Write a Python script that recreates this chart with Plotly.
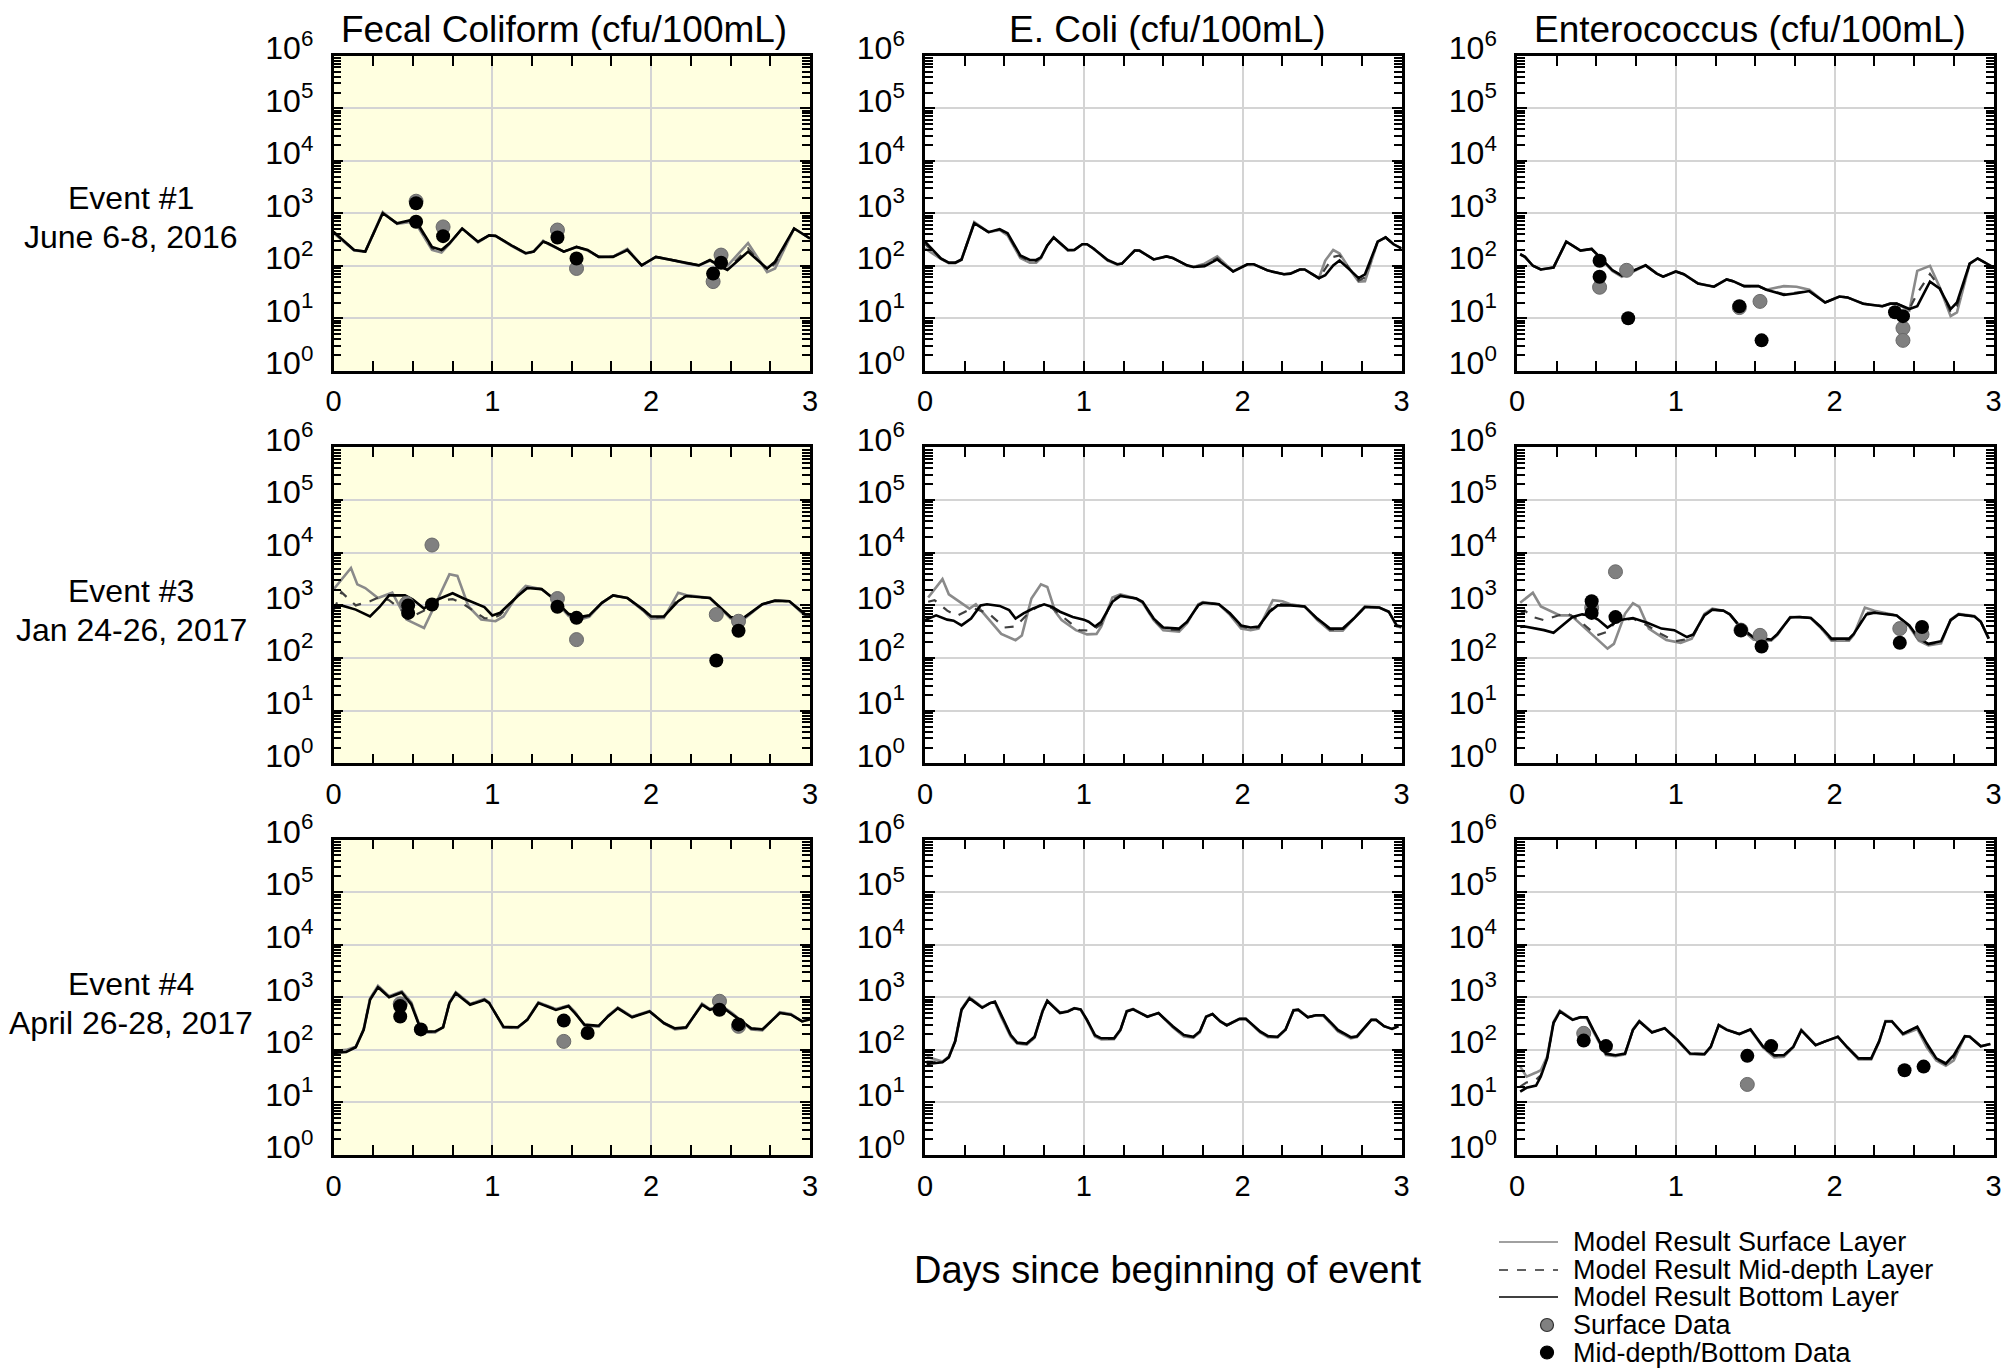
import plotly.graph_objects as go

# The page body adds an 8px margin, so the figure is placed at (8, 8) in the window.
OFF = 8
W, H = 2016 - OFF, 1368 - OFF


def px_x(p):
    return (p - OFF) / W


def px_y(p):
    return 1 - (p - OFF) / H


# ---------------- data ----------------
COL_TITLES = ["Fecal Coliform (cfu/100mL)", "E. Coli (cfu/100mL)", "Enterococcus (cfu/100mL)"]
ROW_LINE1 = ["Event #1", "Event #3", "Event #4"]
ROW_LINE2 = ["June 6-8, 2016", "Jan 24-26, 2017", "April 26-28, 2017"]
X_TICKS = [0, 1, 2, 3]
Y_TICKS = [1, 10, 100, 1000, 10000, 100000, 1000000]
Y_TICKTEXT = ["10<sup>0</sup>", "10<sup>1</sup>", "10<sup>2</sup>", "10<sup>3</sup>",
              "10<sup>4</sup>", "10<sup>5</sup>", "10<sup>6</sup>"]
LEGEND_LINES = ["Model Result Surface Layer", "Model Result Mid-depth Layer", "Model Result Bottom Layer"]
LEGEND_MARKERS = ["Surface Data", "Mid-depth/Bottom Data"]

# Event 1 - Fecal coliform
FC1_T = [0, 0.13, 0.2, 0.31, 0.4, 0.49, 0.51, 0.62, 0.68, 0.73, 0.81, 0.91, 0.98, 1.02, 1.12, 1.21, 1.26, 1.32, 1.35,
         1.45, 1.53, 1.6, 1.67, 1.76, 1.85, 1.94, 2.03, 2.13, 2.23, 2.3, 2.37, 2.44, 2.48, 2.61, 2.73, 2.78, 2.9, 3.0]
FC1_BOT = [447, 200, 186, 1000, 646, 741, 794, 229, 200, 269, 513, 288, 380, 372, 245, 174, 186, 288, 269, 186,
           229, 200, 148, 148, 200, 102, 148, 129, 110, 102, 129, 95, 83, 186, 89, 120, 513, 331]
FC1_SUR = [420, 195, 186, 1050, 630, 700, 700, 200, 178, 260, 513, 280, 380, 372, 240, 170, 186, 300, 262, 186,
           229, 195, 148, 150, 210, 102, 148, 129, 110, 102, 125, 95, 100, 270, 76, 89, 513, 331]
FC1_MID = [440, 198, 186, 1010, 640, 730, 760, 215, 190, 265, 513, 285, 380, 372, 243, 172, 186, 292, 266, 186,
           229, 198, 148, 149, 204, 102, 148, 129, 110, 102, 127, 95, 86, 214, 83, 110, 513, 331]
FC1_SD_T = [0.52, 0.69, 1.41, 1.53, 2.39, 2.44]
FC1_SD = [1700, 550, 480, 89, 50, 160]
FC1_BD_T = [0.52, 0.52, 0.69, 1.41, 1.53, 2.39, 2.44]
FC1_BD = [1550, 690, 367, 347, 138, 71, 114]

# Event 1 - E. coli
EC1_T = [0, 0.1, 0.15, 0.19, 0.23, 0.31, 0.4, 0.47, 0.52, 0.6, 0.66, 0.7, 0.73, 0.77, 0.81, 0.9, 0.94, 0.99, 1.02,
         1.06, 1.15, 1.21, 1.24, 1.32, 1.35, 1.44, 1.52, 1.56, 1.65, 1.69, 1.76, 1.84, 1.94, 2.03, 2.07, 2.16, 2.26,
         2.3, 2.36, 2.39, 2.48, 2.52, 2.57, 2.61, 2.68, 2.73, 2.77, 2.85, 2.9, 2.95, 3.0]
EC1_BOT = [288, 138, 115, 115, 132, 646, 437, 501, 417, 158, 129, 129, 145, 245, 347, 200, 200, 257, 257, 214,
           129, 107, 110, 195, 195, 132, 151, 141, 102, 95, 98, 132, 78, 107, 107, 81, 69, 71, 85, 85,
           58, 66, 102, 126, 81, 58, 69, 288, 347, 257, 214]
EC1_SUR = [214, 135, 112, 112, 130, 680, 437, 480, 380, 141, 115, 115, 140, 245, 347, 195, 200, 257, 257, 214,
           125, 105, 110, 195, 195, 132, 151, 141, 100, 95, 110, 151, 78, 107, 107, 81, 69, 71, 85, 85,
           58, 126, 200, 172, 81, 50, 51, 288, 347, 257, 214]
EC1_MID = [260, 137, 114, 114, 131, 660, 437, 490, 400, 150, 122, 122, 143, 245, 347, 198, 200, 257, 257, 214,
           127, 106, 110, 195, 195, 132, 151, 141, 101, 95, 104, 140, 78, 107, 107, 81, 69, 71, 85, 85,
           58, 89, 148, 158, 81, 52, 60, 288, 347, 257, 214]

# Event 1 - Enterococcus
EN1_T = [0.02, 0.05, 0.1, 0.15, 0.23, 0.31, 0.4, 0.47, 0.52, 0.6, 0.66, 0.72, 0.81, 0.88, 0.92, 1.0, 1.05, 1.14,
         1.24, 1.32, 1.36, 1.43, 1.52, 1.57, 1.68, 1.76, 1.84, 1.94, 2.03, 2.08, 2.18, 2.3, 2.35, 2.39, 2.47, 2.52,
         2.6, 2.66, 2.73, 2.77, 2.85, 2.9, 3.0]
EN1_BOT = [166, 148, 100, 85, 93, 288, 195, 209, 148, 83, 65, 78, 102, 71, 62, 78, 69, 46, 40, 55,
           51, 41, 41, 35, 28, 30, 33, 20, 26, 25, 19, 17, 19, 19, 15, 17, 50, 37, 15, 20, 110, 138, 93]
EN1_SUR = [166, 148, 100, 85, 93, 288, 195, 209, 145, 80, 62, 74, 102, 71, 62, 78, 69, 46, 40, 55,
           51, 41, 41, 35, 41, 40, 35, 20, 26, 25, 19, 17, 19, 19, 14, 80, 100, 40, 11, 13, 110, 138, 93]
EN1_MID = [166, 148, 100, 85, 93, 288, 195, 209, 147, 82, 64, 77, 102, 71, 62, 78, 69, 46, 40, 55,
           51, 41, 41, 35, 29, 31, 33, 20, 26, 25, 19, 17, 19, 19, 15, 30, 70, 40, 13, 17, 110, 138, 93]
EN1_SD_T = [0.52, 0.69, 1.40, 1.53, 2.43, 2.43]
EN1_SD = [39, 82, 16, 21, 6.5, 3.8]
EN1_BD_T = [0.52, 0.52, 0.70, 1.40, 1.54, 2.38, 2.43]
EN1_BD = [125, 62, 10, 17, 3.8, 13, 11]

# Event 3 - Fecal coliform
FC3_T = [0, 0.05, 0.14, 0.23, 0.29, 0.35, 0.45, 0.5, 0.57, 0.63, 0.75, 0.82, 0.95, 1.0, 1.05, 1.16, 1.22, 1.31,
         1.38, 1.48, 1.55, 1.61, 1.69, 1.76, 1.85, 1.95, 2.0, 2.08, 2.17, 2.22, 2.37, 2.5, 2.58, 2.7, 2.78, 2.87,
         2.97, 3.0]
FC3_BOT = [933, 1000, 832, 617, 933, 1550, 1550, 1290, 871, 1200, 1700, 1350, 933, 646, 724, 1510, 2140, 2040,
           1380, 692, 603, 646, 1120, 1550, 1380, 832, 617, 617, 1200, 1510, 1380, 603, 575, 1050, 1230, 1200,
           676, 676]
FC3_MID = [794, 1780, 1000, 1200, 1450, 1260, 724, 631, 794, 1200, 1320, 1050, 575, 562, 661, 1550, 2140, 2040,
           1380, 661, 575, 631, 1120, 1550, 1380, 813, 589, 603, 1320, 1510, 1380, 589, 562, 1050, 1230, 1200,
           661, 661]
FC3_SUR_T = [0, 0.11, 0.15, 0.2, 0.28, 0.37, 0.46, 0.57, 0.66, 0.73, 0.78, 0.85, 0.93, 1.02, 1.07, 1.16, 1.21,
             1.31, 1.38, 1.48, 1.55, 1.61, 1.69, 1.76, 1.85, 1.95, 2.0, 2.08, 2.17, 2.22, 2.37, 2.5, 2.58, 2.7,
             2.78, 2.87, 2.97, 3.0]
FC3_SUR = [2000, 5130, 2510, 2140, 1380, 1740, 537, 372, 1380, 3890, 3630, 955, 537, 501, 617, 1620, 2340, 2040,
           1380, 631, 537, 603, 1120, 1550, 1380, 794, 562, 575, 1740, 1580, 1380, 562, 537, 1050, 1230, 1200,
           631, 631]
FC3_SD_T = [0.46, 0.62, 1.41, 1.53, 2.41, 2.55]
FC3_SD = [1100, 14000, 1350, 224, 670, 500]
FC3_BD_T = [0.47, 0.47, 0.62, 1.41, 1.53, 2.41, 2.55]
FC3_BD = [1000, 720, 1040, 940, 580, 90, 330]

# Event 3 - E. coli
EC3_T = [0, 0.07, 0.14, 0.18, 0.23, 0.29, 0.35, 0.39, 0.47, 0.53, 0.57, 0.62, 0.68, 0.75, 0.8, 0.85, 0.93, 1.0,
         1.03, 1.07, 1.11, 1.18, 1.23, 1.33, 1.37, 1.44, 1.5, 1.6, 1.65, 1.72, 1.75, 1.85, 1.92, 1.99, 2.05, 2.1,
         2.17, 2.22, 2.3, 2.39, 2.47, 2.55, 2.63, 2.7, 2.77, 2.86, 2.92, 2.97, 3.0]
EC3_BOT = [525, 646, 537, 513, 417, 562, 1000, 1050, 977, 813, 562, 708, 871, 1050, 933, 759, 603, 537, 490, 398,
           490, 1170, 1510, 1350, 1170, 562, 380, 363, 490, 1000, 1120, 1050, 708, 417, 380, 398, 759, 1000, 1000,
           955, 562, 363, 363, 562, 933, 912, 759, 417, 398]
EC3_SUR_T = [0.02, 0.11, 0.15, 0.19, 0.28, 0.32, 0.39, 0.48, 0.57, 0.61, 0.67, 0.73, 0.77, 0.82, 0.86, 0.95, 1.02,
             1.08, 1.11, 1.18, 1.23, 1.33, 1.37, 1.44, 1.5, 1.6, 1.65, 1.72, 1.75, 1.85, 1.92, 1.99, 2.05, 2.1,
             2.19, 2.25, 2.3, 2.39, 2.47, 2.55, 2.63, 2.7, 2.77, 2.86, 2.92, 2.97, 3.0]
EC3_SUR = [1410, 3160, 1620, 1350, 871, 1050, 603, 288, 219, 269, 1350, 2510, 2240, 759, 525, 339, 282, 288, 398,
           1410, 1620, 1350, 1120, 525, 339, 316, 457, 1050, 1150, 1050, 661, 363, 339, 363, 1260, 1200, 1050, 955,
           525, 331, 331, 562, 955, 912, 759, 398, 380]
EC3_MID_T = [0.02, 0.06, 0.14, 0.2, 0.3, 0.4, 0.5, 0.57, 0.65, 0.72, 0.8, 0.9, 0.97, 1.05, 1.11, 1.18, 1.23, 1.33,
             1.37, 1.44, 1.5, 1.6, 1.65, 1.72, 1.75, 1.85, 1.92, 1.99, 2.05, 2.1, 2.17, 2.22, 2.3, 2.39, 2.47, 2.55,
             2.63, 2.7, 2.77, 2.86, 2.92, 2.97, 3.0]
EC3_MID = [1170, 1260, 794, 631, 891, 708, 380, 398, 708, 1000, 891, 501, 339, 331, 437, 1260, 1550, 1350, 1150,
           537, 355, 339, 479, 1000, 1150, 1050, 692, 398, 363, 380, 794, 1070, 1000, 955, 550, 347, 347, 562, 933,
           912, 759, 407, 389]

# Event 3 - Enterococcus
EN3_T = [0.02, 0.05, 0.17, 0.23, 0.35, 0.41, 0.46, 0.51, 0.57, 0.64, 0.73, 0.82, 0.91, 0.99, 1.07, 1.11, 1.18, 1.23,
         1.3, 1.34, 1.41, 1.49, 1.6, 1.64, 1.72, 1.78, 1.85, 1.91, 1.98, 2.09, 2.12, 2.2, 2.25, 2.39, 2.47, 2.53,
         2.59, 2.67, 2.73, 2.78, 2.88, 2.92, 2.97]
EN3_BOT = [389, 398, 339, 302, 603, 676, 646, 537, 380, 525, 575, 468, 363, 339, 251, 282, 646, 832, 794, 676, 380,
           245, 224, 288, 589, 603, 575, 398, 234, 234, 288, 676, 724, 646, 417, 234, 186, 209, 525, 676, 617, 490,
           234]
EN3_SUR_T = [0.02, 0.1, 0.15, 0.19, 0.27, 0.34, 0.44, 0.57, 0.61, 0.68, 0.73, 0.77, 0.83, 0.94, 1.03, 1.1, 1.18,
             1.23, 1.3, 1.34, 1.41, 1.49, 1.6, 1.64, 1.72, 1.78, 1.85, 1.91, 1.98, 2.09, 2.12, 2.19, 2.25, 2.39,
             2.47, 2.53, 2.59, 2.67, 2.73, 2.78, 2.88, 2.92, 2.97]
EN3_SUR = [1120, 1740, 955, 832, 646, 646, 339, 151, 186, 692, 1100, 933, 363, 219, 195, 234, 692, 871, 794, 676,
           363, 224, 214, 275, 603, 603, 575, 380, 214, 214, 275, 912, 794, 646, 398, 214, 174, 191, 537, 692, 631,
           490, 234]
EN3_MID_T = [0.02, 0.05, 0.1, 0.17, 0.31, 0.39, 0.5, 0.57, 0.62, 0.73, 0.82, 0.91, 1.0, 1.07, 1.11, 1.18, 1.23,
             1.3, 1.34, 1.41, 1.49, 1.6, 1.64, 1.72, 1.78, 1.85, 1.91, 1.98, 2.09, 2.12, 2.2, 2.25, 2.39, 2.47, 2.53,
             2.59, 2.67, 2.73, 2.78, 2.88, 2.92, 2.97]
EN3_MID = [676, 794, 603, 525, 724, 525, 269, 316, 490, 562, 417, 282, 209, 229, 263, 661, 832, 794, 676, 372,
           234, 219, 282, 589, 603, 575, 389, 224, 224, 282, 724, 741, 646, 407, 224, 182, 200, 525, 676, 617,
           490, 234]
EN3_SD_T = [0.47, 0.62, 1.41, 1.53, 2.41, 2.55]
EN3_SD = [900, 4350, 340, 270, 363, 282]
EN3_BD_T = [0.47, 0.47, 0.62, 1.41, 1.54, 2.41, 2.55]
EN3_BD = [1200, 720, 600, 336, 166, 195, 389]

# Event 4 - Fecal coliform
FC4_T = [0, 0.08, 0.14, 0.19, 0.23, 0.28, 0.35, 0.43, 0.49, 0.54, 0.58, 0.64, 0.69, 0.73, 0.77, 0.86, 0.95, 0.98,
         1.07, 1.16, 1.22, 1.29, 1.4, 1.48, 1.52, 1.58, 1.67, 1.73, 1.79, 1.88, 1.99, 2.08, 2.15, 2.22, 2.32, 2.37,
         2.44, 2.51, 2.63, 2.7, 2.81, 2.88, 2.95, 3.0]
FC4_BOT = [87, 91, 112, 240, 891, 1550, 1000, 1230, 724, 288, 224, 224, 269, 776, 1200, 724, 891, 776, 275, 269,
           372, 776, 575, 676, 501, 302, 288, 437, 617, 417, 537, 324, 257, 269, 724, 575, 676, 468, 257, 245,
           501, 468, 347, 380]
FC4_SUR = [95, 100, 115, 250, 950, 1650, 1050, 1300, 800, 300, 215, 215, 270, 800, 1250, 750, 930, 800, 265, 260,
           380, 800, 600, 700, 530, 290, 275, 450, 640, 430, 550, 320, 245, 260, 760, 600, 700, 500, 245, 235,
           520, 480, 350, 390]
FC4_MID = [90, 93, 113, 245, 920, 1600, 1020, 1260, 760, 295, 220, 220, 270, 790, 1220, 735, 910, 790, 270, 265,
           375, 790, 590, 690, 515, 296, 282, 444, 628, 424, 543, 322, 251, 265, 742, 588, 688, 484, 251, 240,
           510, 474, 349, 385]
FC4_SD_T = [0.42, 1.45, 2.43, 2.55]
FC4_SD = [750, 145, 840, 280]
FC4_BD_T = [0.42, 0.42, 0.55, 1.45, 1.6, 2.43, 2.55]
FC4_BD = [680, 430, 245, 360, 210, 580, 305]

# Event 4 - E. coli
EC4_T = [0.01, 0.11, 0.15, 0.19, 0.23, 0.28, 0.36, 0.41, 0.44, 0.48, 0.54, 0.58, 0.64, 0.69, 0.74, 0.77, 0.85, 0.9,
         0.94, 0.98, 1.02, 1.07, 1.11, 1.19, 1.23, 1.27, 1.31, 1.4, 1.47, 1.56, 1.63, 1.69, 1.73, 1.77, 1.81, 1.86,
         1.9, 1.98, 2.02, 2.11, 2.16, 2.22, 2.27, 2.32, 2.35, 2.41, 2.46, 2.51, 2.6, 2.68, 2.72, 2.81, 2.84, 2.89,
         2.94, 2.98]
EC4_BOT = [54, 58, 72, 145, 575, 955, 631, 776, 832, 457, 191, 138, 132, 178, 537, 851, 501, 537, 617, 589, 372,
           191, 166, 166, 240, 537, 589, 427, 501, 282, 191, 178, 224, 427, 479, 347, 295, 389, 389, 224, 182, 178,
           245, 562, 575, 417, 457, 457, 240, 174, 182, 372, 372, 282, 251, 282]
EC4_SUR = [74, 60, 75, 150, 600, 1000, 650, 780, 800, 420, 178, 132, 126, 170, 560, 870, 510, 550, 620, 580, 360,
           180, 158, 160, 235, 550, 600, 430, 500, 270, 180, 170, 215, 430, 480, 345, 290, 385, 385, 215, 175, 172,
           240, 575, 590, 420, 450, 440, 225, 165, 176, 372, 372, 282, 251, 282]
EC4_MID = [60, 58, 73, 147, 585, 970, 640, 778, 815, 440, 185, 135, 129, 174, 548, 860, 505, 543, 618, 585, 366,
           186, 162, 163, 238, 543, 594, 428, 500, 276, 186, 174, 220, 428, 480, 346, 292, 387, 387, 220, 178, 175,
           242, 568, 582, 418, 453, 448, 232, 170, 179, 372, 372, 282, 251, 282]

# Event 4 - Enterococcus
EN4_T = [0.02, 0.06, 0.12, 0.15, 0.19, 0.23, 0.27, 0.35, 0.4, 0.44, 0.48, 0.56, 0.62, 0.68, 0.73, 0.77, 0.85, 0.93,
         1.01, 1.09, 1.18, 1.22, 1.27, 1.32, 1.4, 1.47, 1.55, 1.62, 1.68, 1.74, 1.79, 1.88, 1.94, 2.02, 2.08, 2.15,
         2.23, 2.28, 2.32, 2.36, 2.43, 2.52, 2.58, 2.64, 2.7, 2.75, 2.82, 2.85, 2.92, 2.98]
EN4_BOT = [16, 19, 21, 31, 69, 324, 537, 372, 417, 417, 240, 85, 79, 85, 240, 347, 214, 257, 155, 85, 83, 115, 295,
           240, 200, 245, 115, 79, 79, 115, 234, 123, 145, 178, 112, 69, 69, 145, 347, 347, 204, 275, 132, 69, 55,
           79, 182, 178, 117, 129]
EN4_SUR = [48, 31, 37, 41, 75, 340, 560, 380, 420, 400, 225, 80, 76, 82, 245, 355, 218, 258, 152, 83, 82, 112, 300,
           245, 200, 240, 110, 72, 74, 112, 240, 124, 145, 178, 110, 66, 66, 142, 355, 355, 195, 250, 112, 63, 50,
           63, 182, 182, 117, 129]
EN4_MID = [20, 24, 27, 33, 70, 330, 545, 375, 418, 410, 235, 83, 78, 84, 242, 350, 216, 257, 154, 84, 83, 114, 297,
           242, 200, 243, 113, 77, 77, 114, 236, 123, 145, 178, 111, 68, 68, 144, 350, 350, 200, 265, 125, 66, 53,
           72, 182, 180, 117, 129]
EN4_SD_T = [0.42, 1.45]
EN4_SD = [206, 22]
EN4_BD_T = [0.42, 0.56, 1.45, 1.6, 2.44, 2.56]
EN4_BD = [150, 118, 77, 118, 41, 48]

# ---------------- assembly ----------------
PANELS = [
    (0, 0, FC1_T, FC1_SUR, FC1_T, FC1_MID, FC1_T, FC1_BOT, FC1_SD_T, FC1_SD, FC1_BD_T, FC1_BD),
    (0, 1, EC1_T, EC1_SUR, EC1_T, EC1_MID, EC1_T, EC1_BOT, [], [], [], []),
    (0, 2, EN1_T, EN1_SUR, EN1_T, EN1_MID, EN1_T, EN1_BOT, EN1_SD_T, EN1_SD, EN1_BD_T, EN1_BD),
    (1, 0, FC3_SUR_T, FC3_SUR, FC3_T, FC3_MID, FC3_T, FC3_BOT, FC3_SD_T, FC3_SD, FC3_BD_T, FC3_BD),
    (1, 1, EC3_SUR_T, EC3_SUR, EC3_MID_T, EC3_MID, EC3_T, EC3_BOT, [], [], [], []),
    (1, 2, EN3_SUR_T, EN3_SUR, EN3_MID_T, EN3_MID, EN3_T, EN3_BOT, EN3_SD_T, EN3_SD, EN3_BD_T, EN3_BD),
    (2, 0, FC4_T, FC4_SUR, FC4_T, FC4_MID, FC4_T, FC4_BOT, FC4_SD_T, FC4_SD, FC4_BD_T, FC4_BD),
    (2, 1, EC4_T, EC4_SUR, EC4_T, EC4_MID, EC4_T, EC4_BOT, [], [], [], []),
    (2, 2, EN4_T, EN4_SUR, EN4_T, EN4_MID, EN4_T, EN4_BOT, EN4_SD_T, EN4_SD, EN4_BD_T, EN4_BD),
]

# panel boxes in window pixels (as measured on the reference)
COLS_PX = [(333.5, 810.0), (925.0, 1401.5), (1517.0, 1993.5)]
ROWS_PX = [(55.8, 370.8), (447.4, 763.4), (839.6, 1155.0)]
FONT = "Liberation Sans, Arial, Helvetica, sans-serif"

SUR_LINE = dict(color="#8a8a8a", width=2.6)
MID_LINE = dict(color="#404040", width=2.2, dash="dash")
BOT_LINE = dict(color="#000000", width=2.6)
SD_MARK = dict(color="#808080", size=14, line=dict(color="#6a6a6a", width=1))
BD_MARK = dict(color="#000000", size=14)

fig = go.Figure()
layout = {}
shapes = []
for k, (r, c, st, sv, mt, mv, bt, bv, sdt, sdv, bdt, bdv) in enumerate(PANELS):
    n = "" if k == 0 else str(k + 1)
    xa, ya = "x" + n, "y" + n
    fig.add_trace(go.Scatter(x=st, y=sv, xaxis=xa, yaxis=ya, mode="lines", name=LEGEND_LINES[0],
                             line=SUR_LINE, showlegend=False))
    fig.add_trace(go.Scatter(x=mt, y=mv, xaxis=xa, yaxis=ya, mode="lines", name=LEGEND_LINES[1],
                             line=MID_LINE, showlegend=False))
    fig.add_trace(go.Scatter(x=bt, y=bv, xaxis=xa, yaxis=ya, mode="lines", name=LEGEND_LINES[2],
                             line=BOT_LINE, showlegend=False))
    if len(sdt):
        fig.add_trace(go.Scatter(x=sdt, y=sdv, xaxis=xa, yaxis=ya, mode="markers", name=LEGEND_MARKERS[0],
                                 marker=SD_MARK, showlegend=False))
    if len(bdt):
        fig.add_trace(go.Scatter(x=bdt, y=bdv, xaxis=xa, yaxis=ya, mode="markers", name=LEGEND_MARKERS[1],
                                 marker=BD_MARK, showlegend=False))

    x0, x1 = COLS_PX[c]
    y0, y1 = ROWS_PX[r]
    layout["xaxis" + n] = dict(
        domain=[px_x(x0), px_x(x1)], anchor=ya, range=[0, 3], tickmode="array", tickvals=X_TICKS,
        ticks="inside", ticklen=10, tickwidth=1.8, tickcolor="black",
        minor=dict(tickmode="array", tickvals=[0.25, 0.5, 0.75, 1.25, 1.5, 1.75, 2.25, 2.5, 2.75],
                   ticks="inside", ticklen=10, tickwidth=1.8, tickcolor="black", showgrid=False),
        showgrid=True, gridcolor="#d4d4d4", gridwidth=1.5, zeroline=False, automargin=False,
        showline=True, linecolor="black", linewidth=2.5, mirror="allticks",
        tickfont=dict(size=29, color="black", family=FONT), ticklabelstandoff=3)
    minor_vals = [m * 10 ** e for e in range(6) for m in range(2, 10)]
    layout["yaxis" + n] = dict(
        domain=[px_y(y1), px_y(y0)], anchor=xa, type="log", range=[0, 6],
        tickmode="array", tickvals=Y_TICKS, ticktext=Y_TICKTEXT,
        ticks="inside", ticklen=10, tickwidth=1.8, tickcolor="black",
        minor=dict(tickmode="array", tickvals=minor_vals, ticks="inside", ticklen=8, tickwidth=1.5,
                   tickcolor="black", showgrid=False),
        showgrid=True, gridcolor="#d4d4d4", gridwidth=1.5, zeroline=False, automargin=False,
        showline=True, linecolor="black", linewidth=2.5, mirror="allticks",
        tickfont=dict(size=32, color="black", family=FONT), ticklabelshift=-8, ticklabelstandoff=11)
    if c == 0:
        shapes.append(dict(type="rect", xref=xa + " domain", yref=ya + " domain", x0=0, x1=1, y0=0, y1=1,
                           fillcolor="#FFFFE0", line=dict(width=0), layer="below"))

annotations = []
TITLE_X = [564, 1167, 1750]
for c, t in enumerate(COL_TITLES):
    annotations.append(dict(text=t, x=px_x(TITLE_X[c]), y=1, xref="paper", yref="paper",
                            xanchor="center", yanchor="top", showarrow=False, borderpad=0,
                            font=dict(size=37, color="black", family=FONT)))
ROW_Y = [(198, 237), (591, 630), (984, 1023)]
for r in range(3):
    annotations.append(dict(text=ROW_LINE1[r], x=px_x(131), y=px_y(ROW_Y[r][0]), xref="paper", yref="paper",
                            xanchor="center", yanchor="middle", showarrow=False, borderpad=0,
                            font=dict(size=32, color="black", family=FONT)))
    annotations.append(dict(text=ROW_LINE2[r], x=px_x(131), y=px_y(ROW_Y[r][1]), xref="paper", yref="paper",
                            xanchor="center", yanchor="middle", showarrow=False, borderpad=0,
                            font=dict(size=32, color="black", family=FONT)))
annotations.append(dict(text="Days since beginning of event", x=px_x(1167), y=px_y(1270), xref="paper",
                        yref="paper", xanchor="center", yanchor="middle", showarrow=False,
                        font=dict(size=38, color="black", family=FONT)))

# manual legend (window-pixel positions of the reference legend block)
LEG_Y = [1242, 1270, 1297, 1325, 1352.5]
LEG_LINE_STYLE = [dict(color="#a0a0a0", width=1.8), dict(color="#606060", width=1.8, dash="dash"),
                  dict(color="#404040", width=2.2)]
for i, name in enumerate(LEGEND_LINES + LEGEND_MARKERS):
    y = px_y(LEG_Y[i])
    annotations.append(dict(text=name, x=px_x(1571), y=y, xref="paper", yref="paper", xanchor="left",
                            yanchor="middle", showarrow=False, font=dict(size=27, color="black", family=FONT)))
    if i < 3:
        shapes.append(dict(type="line", xref="paper", yref="paper", x0=px_x(1499), x1=px_x(1558), y0=y, y1=y,
                           line=LEG_LINE_STYLE[i]))
    else:
        rad = 6.5
        fill = "#808080" if i == 3 else "#000000"
        edge = "#303030" if i == 3 else "#000000"
        shapes.append(dict(type="circle", xref="paper", yref="paper", x0=px_x(1547 - rad), x1=px_x(1547 + rad),
                           y0=px_y(LEG_Y[i] + rad), y1=px_y(LEG_Y[i] - rad), fillcolor=fill,
                           line=dict(color=edge, width=1.2)))

fig.update_layout(
    width=W, height=H, margin=dict(l=0, r=0, t=0, b=0, autoexpand=False),
    paper_bgcolor="white", plot_bgcolor="white", showlegend=False,
    font=dict(family=FONT, color="black"),
    shapes=shapes, annotations=annotations,
    **layout)

fig.write_html("out.html")
